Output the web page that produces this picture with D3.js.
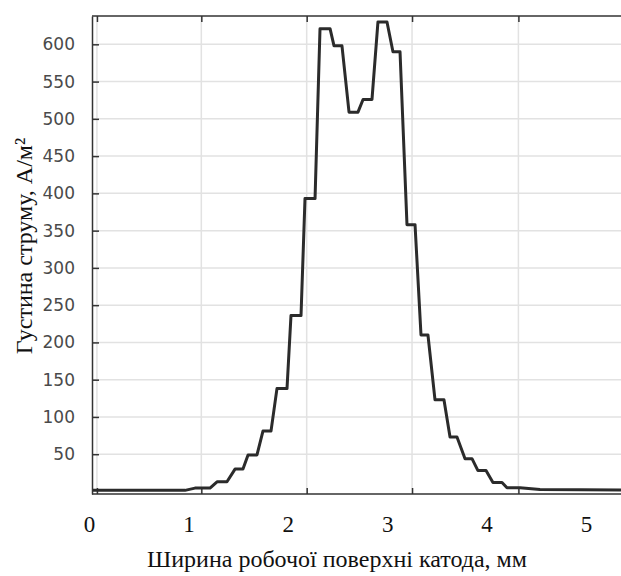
<!DOCTYPE html>
<html>
<head>
<meta charset="utf-8">
<script src="https://cdn.jsdelivr.net/npm/d3@7"></script>
<style>
  body { margin: 0; background: #fff; }
</style>
</head>
<body>
<div id="chart"></div>
<script>
// x in mm, y in A/m^2
var xs = [0.04, 0.966, 1.066, 1.217, 1.288, 1.388, 1.469, 1.549, 1.600, 1.690,
          1.750, 1.831, 1.891, 1.992, 2.032, 2.133, 2.173, 2.274, 2.324, 2.425,
          2.465, 2.545, 2.616, 2.706, 2.757, 2.847, 2.907, 2.998, 3.058, 3.129,
          3.199, 3.280, 3.340, 3.410, 3.481, 3.571, 3.632, 3.702, 3.783, 3.853,
          3.913, 3.994, 4.064, 4.155, 4.205, 4.336, 4.537, 5.352];
var ys = [1.5, 1.5, 4.5, 4.5, 13, 13, 30, 30, 49, 49,
          81, 81, 138, 138, 236, 236, 393, 393, 621, 621,
          598, 598, 509, 509, 526, 526, 630, 630, 590, 590,
          358, 358, 210, 210, 123, 123, 73, 73, 44, 44,
          28, 28, 12, 12, 5, 5, 2.5, 2];

var xTicks = [0, 1, 2, 3, 4, 5];
var yTicks = [50, 100, 150, 200, 250, 300, 350, 400, 450, 500, 550, 600];
// vertical grid / tick marks of the frame (they do not sit on the labels)
var gridX = [0.08, 1.13, 2.19, 3.25, 4.32];

var data = xs.map(function(d, i) { return {x: d, y: ys[i]}; });

var W = 621, H = 576;
var plotL = 92, plotR = 621, plotT = 16, plotB = 494;

var svg = d3.select("#chart")
    .append("svg")
    .attr("width", W)
    .attr("height", H);

var x = d3.scaleLinear().domain([0, 5]).range([89, 586]);
var y = d3.scaleLinear().domain([-3.4, 638]).range([plotB, plotT]);

// grid
svg.append("g")
    .selectAll("line")
    .data(yTicks)
    .enter().append("line")
    .attr("x1", plotL).attr("x2", plotR)
    .attr("y1", d => y(d)).attr("y2", d => y(d))
    .attr("stroke", "#e2e2e2").attr("stroke-width", 1.5);

svg.append("g")
    .selectAll("line")
    .data(gridX)
    .enter().append("line")
    .attr("x1", d => x(d)).attr("x2", d => x(d))
    .attr("y1", plotT).attr("y2", plotB)
    .attr("stroke", "#e2e2e2").attr("stroke-width", 1.5);

// left axis: inward ticks, grey sans labels
var yAxis = svg.append("g")
    .attr("transform", "translate(" + plotL + ",0)")
    .call(d3.axisLeft(y).tickValues(yTicks).tickSizeInner(-7).tickSizeOuter(0).tickPadding(17));
yAxis.select(".domain").attr("stroke", "#333").attr("stroke-width", 1.5);
yAxis.selectAll(".tick line").attr("stroke", "#333").attr("stroke-width", 1.5);
yAxis.selectAll("text")
    .attr("font-family", "DejaVu Sans, sans-serif")
    .attr("font-size", 17)
    .attr("fill", "#4a4a4a");

// top and bottom frame lines with ticks at the grid positions
var topAxis = svg.append("g")
    .attr("transform", "translate(0," + plotT + ")")
    .call(d3.axisTop(x).tickValues(gridX).tickSizeInner(-6).tickSizeOuter(0).tickFormat(""));
var botAxis = svg.append("g")
    .attr("transform", "translate(0," + plotB + ")")
    .call(d3.axisBottom(x).tickValues(gridX).tickSizeInner(-6).tickSizeOuter(0).tickFormat(""));
[topAxis, botAxis].forEach(function(g) {
    g.select(".domain").attr("d", "M" + plotL + ",0H" + plotR)
        .attr("stroke", "#333").attr("stroke-width", 1.5);
    g.selectAll(".tick line").attr("stroke", "#333").attr("stroke-width", 1.5);
});

// x labels (serif, below the frame)
var xLab = svg.append("g")
    .attr("transform", "translate(0," + plotB + ")")
    .call(d3.axisBottom(x).tickValues(xTicks).tickSize(0).tickPadding(22).tickFormat(d3.format("d")));
xLab.select(".domain").remove();
xLab.selectAll("text")
    .attr("font-family", "Liberation Serif, Times New Roman, serif")
    .attr("font-size", 23)
    .attr("fill", "#111");

// curve
svg.append("path")
    .datum(data)
    .attr("fill", "none")
    .attr("stroke", "#2b2b2b")
    .attr("stroke-width", 3)
    .attr("stroke-linejoin", "round")
    .attr("d", d3.line().x(d => x(d.x)).y(d => y(d.y)));

// titles
svg.append("text")
    .attr("x", 337).attr("y", 567)
    .attr("text-anchor", "middle")
    .attr("font-family", "Liberation Serif, Times New Roman, serif")
    .attr("font-size", 24)
    .attr("fill", "#111")
    .text("Ширина робочої поверхні катода, мм");

svg.append("text")
    .attr("transform", "translate(32,246) rotate(-90)")
    .attr("text-anchor", "middle")
    .attr("font-family", "Liberation Serif, Times New Roman, serif")
    .attr("font-size", 24)
    .attr("fill", "#111")
    .text("Густина струму, А/м²");
</script>
</body>
</html>
